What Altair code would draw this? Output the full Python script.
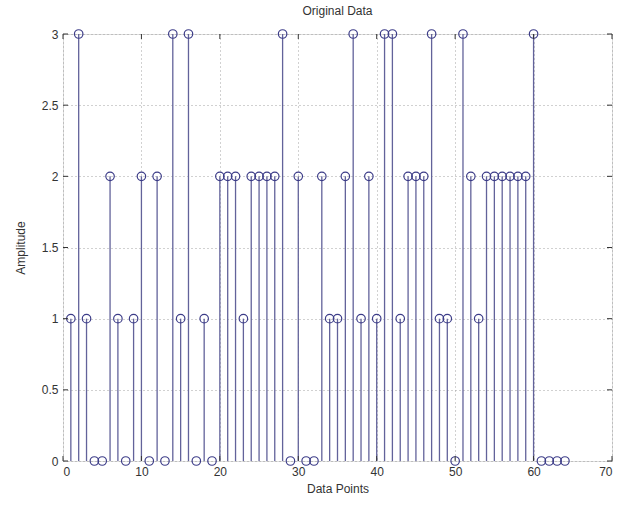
import altair as alt
import pandas as pd

points = list(range(1, 65))
amplitude = [1, 3, 1, 0, 0, 2, 1, 0, 1, 2,
             0, 2, 0, 3, 1, 3, 0, 1, 0, 2,
             2, 2, 1, 2, 2, 2, 2, 3, 0, 2,
             0, 0, 2, 1, 1, 2, 3, 1, 2, 1,
             3, 3, 1, 2, 2, 2, 3, 1, 1, 0,
             3, 2, 1, 2, 2, 2, 2, 2, 2, 3,
             0, 0, 0, 0]
x_ticks = [0, 10, 20, 30, 40, 50, 60, 70]
y_ticks = [0, 0.5, 1, 1.5, 2, 2.5, 3]

df = pd.DataFrame({"x": points, "y": amplitude})
xt = pd.DataFrame({"t": x_ticks})
yt = pd.DataFrame({"t": y_ticks})

W, H = 549, 427
FONT = "Liberation Sans"
STEM = "#62629a"
TICKC = "#333333"
TXT = "#333333"

xs = alt.Scale(domain=[0, 70], nice=False, zero=False)
ys = alt.Scale(domain=[0, 3], nice=False, zero=False)

xaxis = alt.Axis(values=x_ticks, title="Data Points", grid=True, gridDash=[1, 3],
                 gridColor="#999999", gridOpacity=0.9, domain=False, tickSize=0,
                 labelPadding=5, labelFont=FONT, labelFontSize=12, labelColor=TXT,
                 titleFont=FONT, titleFontSize=12, titleFontWeight="normal",
                 titleColor=TXT, titlePadding=6, format="d")
yaxis = alt.Axis(values=y_ticks, title="Amplitude", grid=True, gridDash=[1, 3],
                 gridColor="#999999", gridOpacity=0.9, domain=False, tickSize=0,
                 labelPadding=5, labelFont=FONT, labelFontSize=12, labelColor=TXT,
                 titleFont=FONT, titleFontSize=12, titleFontWeight="normal",
                 titleColor=TXT, titlePadding=14, format="~g")

base = alt.Chart(df)

stems = base.mark_rule(color=STEM, strokeWidth=1.3).encode(
    x=alt.X("x:Q", scale=xs, axis=xaxis),
    y=alt.Y("y0:Q", scale=ys, axis=yaxis),
    y2="y:Q",
).transform_calculate(y0="0")

dots = base.mark_point(shape="circle", filled=False, color="#3c3c88",
                       size=72, strokeWidth=1.2, opacity=1).encode(
    x=alt.X("x:Q", scale=xs),
    y=alt.Y("y:Q", scale=ys),
)

tb = alt.Chart(xt).mark_rule(color=TICKC, strokeWidth=1).encode(
    x=alt.X("t:Q", scale=xs), y=alt.value(H), y2=alt.value(H - 5))
tt = alt.Chart(xt).mark_rule(color=TICKC, strokeWidth=1).encode(
    x=alt.X("t:Q", scale=xs), y=alt.value(0), y2=alt.value(5))
tl = alt.Chart(yt).mark_rule(color=TICKC, strokeWidth=1).encode(
    y=alt.Y("t:Q", scale=ys), x=alt.value(0), x2=alt.value(5))
tr = alt.Chart(yt).mark_rule(color=TICKC, strokeWidth=1).encode(
    y=alt.Y("t:Q", scale=ys), x=alt.value(W), x2=alt.value(W - 5))

chart = alt.layer(stems, dots, tb, tt, tl, tr).properties(
    width=W, height=H,
    title=alt.TitleParams("Original Data", font=FONT, fontSize=12,
                          fontWeight="normal", color=TXT, offset=9),
    autosize=alt.AutoSizeParams(type="none"),
    padding={"left": 63, "top": 34, "right": 11, "bottom": 47},
).configure_view(stroke="#444444", strokeWidth=1).configure(background="white")

chart.save("out.html", embed_options={"renderer": "svg", "actions": False})
